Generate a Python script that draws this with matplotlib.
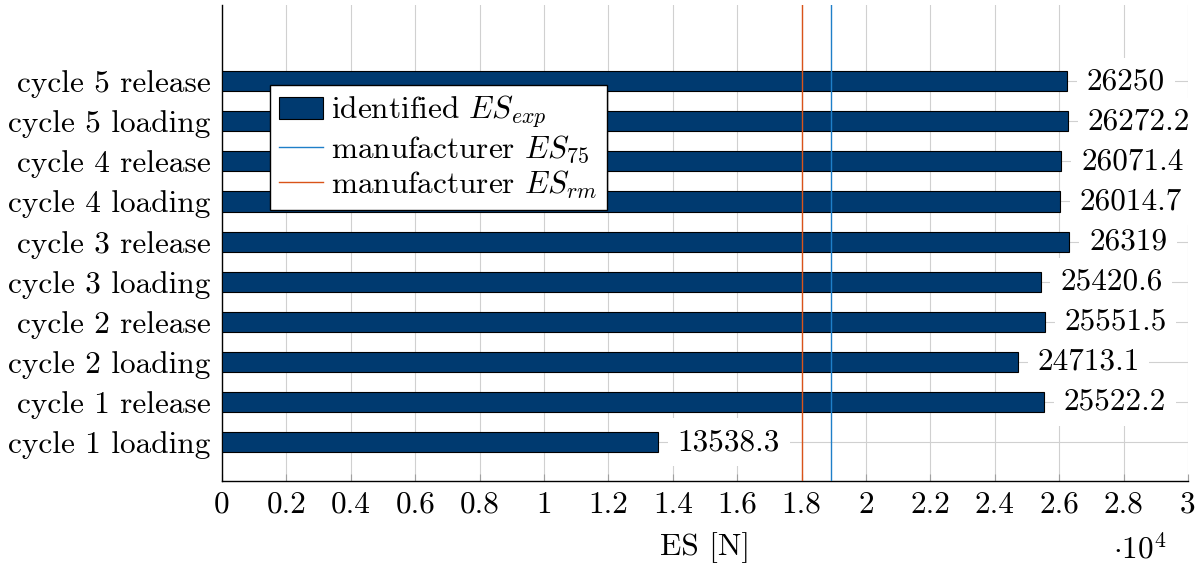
import matplotlib.pyplot as plt
from matplotlib.ticker import FuncFormatter, MultipleLocator
from matplotlib.patches import Patch
from matplotlib.lines import Line2D

plt.rcParams['font.family'] = 'cmr10'
plt.rcParams['mathtext.fontset'] = 'cm'
plt.rcParams['axes.unicode_minus'] = False
plt.rcParams['axes.formatter.use_mathtext'] = True

# -------- Data --------
labels = ["cycle 1 loading", "cycle 1 release", "cycle 2 loading", "cycle 2 release",
          "cycle 3 loading", "cycle 3 release", "cycle 4 loading", "cycle 4 release",
          "cycle 5 loading", "cycle 5 release"]
values = [13538.3, 25522.2, 24713.1, 25551.5, 25420.6, 26319, 26014.7, 26071.4,
          26272.2, 26250]
value_text = ["13538.3", "25522.2", "24713.1", "25551.5", "25420.6", "26319",
              "26014.7", "26071.4", "26272.2", "26250"]
es_75 = 18900
es_rm = 18000

bar_color = "#003a70"
blue = "#1f7fc8"
orange = "#d95319"
fs = 22.5

# -------- Plot --------
fig = plt.figure(figsize=(12.02, 5.71), dpi=100)
ax = fig.add_axes([222 / 1202, (571 - 481) / 571, (1188 - 222) / 1202, (481 - 5) / 571])

ypos = list(range(len(labels)))
ax.barh(ypos, values, height=0.5, color=bar_color, edgecolor="black", linewidth=0.8, zorder=3)
ax.axvline(es_75, color=blue, linewidth=1.0, zorder=4)
ax.axvline(es_rm, color=orange, linewidth=1.0, zorder=4)

for y, v, t in zip(ypos, values, value_text):
    ax.text(v + 610, y, t, va="center", ha="left", fontsize=fs, zorder=5,
            bbox=dict(facecolor="white", edgecolor="none", pad=7))

ax.set_xlim(0, 30000)
ax.set_ylim(-0.97, 10.9)
ax.set_yticks(ypos)
ax.set_yticklabels(labels, fontsize=fs)
ax.xaxis.set_major_locator(MultipleLocator(2000))
ax.xaxis.set_major_formatter(FuncFormatter(lambda x, p: "%g" % round(x / 1e4, 2)))
ax.tick_params(axis="x", labelsize=fs, direction="in", color="#a0a0a0", length=5, pad=7)
ax.tick_params(axis="y", length=0, pad=8)
ax.grid(True, color="#d0d0d0", linewidth=0.8, zorder=0)
ax.set_axisbelow(True)
for s in ["top", "right"]:
    ax.spines[s].set_visible(False)
ax.spines["left"].set_linewidth(1.0)
ax.spines["bottom"].set_linewidth(1.0)

ax.set_xlabel("ES [N]", fontsize=fs, labelpad=10)
fig.text(1140 / 1202, 1 - 550 / 571, r"$\cdot 10^4$", fontsize=fs, ha="center", va="center")

handles = [Patch(facecolor=bar_color, edgecolor="black", linewidth=0.8),
           Line2D([0], [0], color=blue, linewidth=1.0),
           Line2D([0], [0], color=orange, linewidth=1.0)]
leg_labels = [r"identified $ES_{exp}$", r"manufacturer $ES_{75}$", r"manufacturer $ES_{rm}$"]
leg = ax.legend(handles, leg_labels, loc="upper left", bbox_to_anchor=(48 / 966, (481 - 85) / 476),
                fontsize=fs, frameon=True, fancybox=False, edgecolor="black", framealpha=1,
                handlelength=1.4, handletextpad=0.25, borderpad=0.3, labelspacing=0.1,
                borderaxespad=0)
leg.get_frame().set_linewidth(1.0)
leg.set_zorder(6)

fig.savefig("out.png", dpi=100)
